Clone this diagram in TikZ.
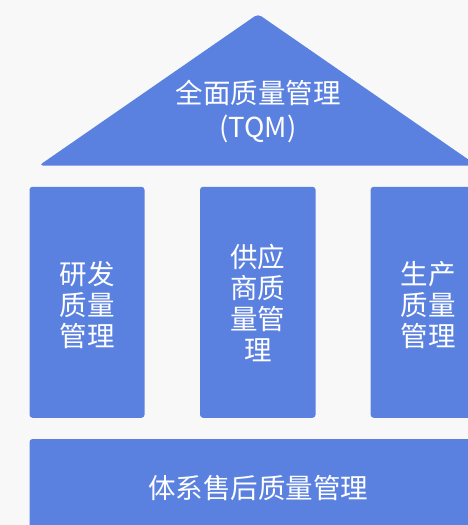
\documentclass[tikz,border=0pt]{standalone}
\usepackage{fontspec}
\setmainfont{Noto Sans CJK SC}
\definecolor{pillarblue}{HTML}{5B81E0}
\definecolor{bgpage}{HTML}{F8F8F9}
\begin{document}
\begin{tikzpicture}[x=1pt,y=-1pt,
  block/.style={fill=pillarblue, rounded corners=3pt, inner sep=0pt},
  blocktext/.style={text=white, align=center, inner sep=0pt, font=\fontsize{27.5}{31}\selectfont},
  label/.style={text=white, align=center, inner sep=0pt, font=\fontsize{27.5}{34}\selectfont}]
\useasboundingbox (0,0) rectangle (468,525);
\fill[bgpage] (0,0) rectangle (468,525);
\clip (0,0) rectangle (468,525);
% roof
\fill[pillarblue, rounded corners=4pt] (258,14) -- (39,165.5) -- (477,165.5) -- cycle;
\node[label] (roof) at (258,111) {全面质量管理\\(TQM)};
% pillars
\node[block, minimum width=115pt, minimum height=231pt] (rd) at (87,302.3) {};
\node[blocktext] (rdtext) at (87,305.5) {研发\\质量\\管理};
\node[block, minimum width=115.5pt, minimum height=231pt] (sup) at (257.8,302.3) {};
\node[blocktext] (suptext) at (257.8,302.8) {供应\\商质\\量管\\理};
\node[block, minimum width=115.5pt, minimum height=231pt] (prod) at (428.4,302.3) {};
\node[blocktext] (prodtext) at (428.4,305.5) {生产\\质量\\管理};
% base
\node[block, minimum width=457pt, minimum height=98pt] (base) at (258,488) {};
\node[blocktext] (basetext) at (258,488.5) {体系售后质量管理};
\end{tikzpicture}
\end{document}
